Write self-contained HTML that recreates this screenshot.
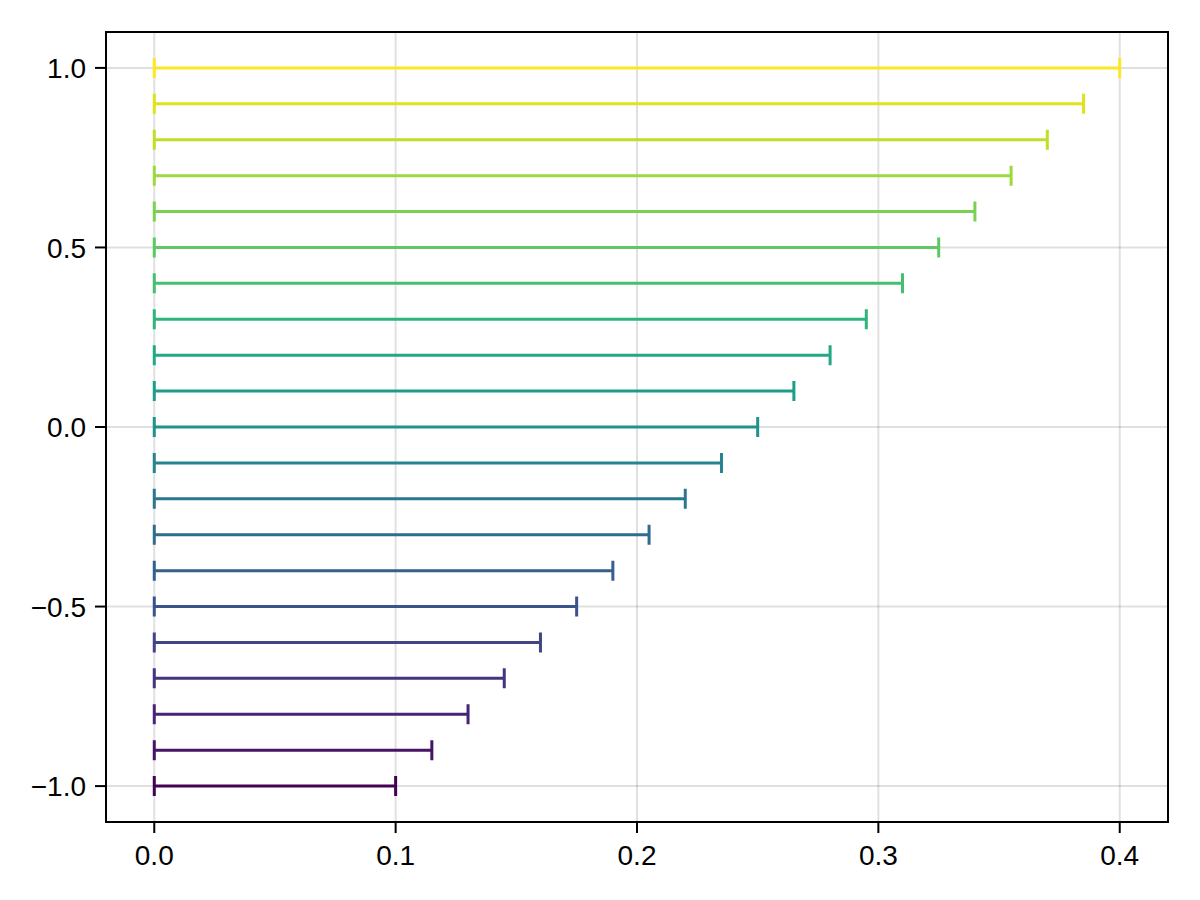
<!DOCTYPE html>
<html><head><meta charset="utf-8"><title>rangebars</title>
<style>html,body{margin:0;padding:0;background:#fff;}body{width:1200px;height:900px;overflow:hidden;}svg{display:block;}text{font-family:"Liberation Sans",sans-serif;font-size:28px;fill:#000;}</style></head><body>
<svg width="1200" height="900" viewBox="0 0 1200 900">
<rect x="0" y="0" width="1200" height="900" fill="#ffffff"/>
<g stroke="rgba(0,0,0,0.12)" stroke-width="2" fill="none">
<line x1="154.27" y1="32.00" x2="154.27" y2="822.00"/>
<line x1="395.64" y1="32.00" x2="395.64" y2="822.00"/>
<line x1="637.00" y1="32.00" x2="637.00" y2="822.00"/>
<line x1="878.36" y1="32.00" x2="878.36" y2="822.00"/>
<line x1="1119.73" y1="32.00" x2="1119.73" y2="822.00"/>
<line x1="106.00" y1="786.09" x2="1168.00" y2="786.09"/>
<line x1="106.00" y1="606.55" x2="1168.00" y2="606.55"/>
<line x1="106.00" y1="427.00" x2="1168.00" y2="427.00"/>
<line x1="106.00" y1="247.45" x2="1168.00" y2="247.45"/>
<line x1="106.00" y1="67.91" x2="1168.00" y2="67.91"/>
</g>
<g fill="none" stroke-width="3" stroke-linecap="butt">
<path stroke="#440154" d="M154.27 786.09H395.64M154.27 776.09V796.09M395.64 776.09V796.09"/>
<path stroke="#471365" d="M154.27 750.18H431.84M154.27 740.18V760.18M431.84 740.18V760.18"/>
<path stroke="#482475" d="M154.27 714.27H468.05M154.27 704.27V724.27M468.05 704.27V724.27"/>
<path stroke="#463480" d="M154.27 678.36H504.25M154.27 668.36V688.36M504.25 668.36V688.36"/>
<path stroke="#414487" d="M154.27 642.45H540.45M154.27 632.45V652.45M540.45 632.45V652.45"/>
<path stroke="#3b528b" d="M154.27 606.55H576.66M154.27 596.55V616.55M576.66 596.55V616.55"/>
<path stroke="#355f8d" d="M154.27 570.64H612.86M154.27 560.64V580.64M612.86 560.64V580.64"/>
<path stroke="#2f6c8e" d="M154.27 534.73H649.07M154.27 524.73V544.73M649.07 524.73V544.73"/>
<path stroke="#2a788e" d="M154.27 498.82H685.27M154.27 488.82V508.82M685.27 488.82V508.82"/>
<path stroke="#25848e" d="M154.27 462.91H721.48M154.27 452.91V472.91M721.48 452.91V472.91"/>
<path stroke="#21918c" d="M154.27 427.00H757.68M154.27 417.00V437.00M757.68 417.00V437.00"/>
<path stroke="#1e9c89" d="M154.27 391.09H793.89M154.27 381.09V401.09M793.89 381.09V401.09"/>
<path stroke="#22a884" d="M154.27 355.18H830.09M154.27 345.18V365.18M830.09 345.18V365.18"/>
<path stroke="#2fb47c" d="M154.27 319.27H866.30M154.27 309.27V329.27M866.30 309.27V329.27"/>
<path stroke="#44bf70" d="M154.27 283.36H902.50M154.27 273.36V293.36M902.50 273.36V293.36"/>
<path stroke="#5ec962" d="M154.27 247.45H938.70M154.27 237.45V257.45M938.70 237.45V257.45"/>
<path stroke="#7ad151" d="M154.27 211.55H974.91M154.27 201.55V221.55M974.91 201.55V221.55"/>
<path stroke="#9bd93c" d="M154.27 175.64H1011.11M154.27 165.64V185.64M1011.11 165.64V185.64"/>
<path stroke="#bddf26" d="M154.27 139.73H1047.32M154.27 129.73V149.73M1047.32 129.73V149.73"/>
<path stroke="#dfe318" d="M154.27 103.82H1083.52M154.27 93.82V113.82M1083.52 93.82V113.82"/>
<path stroke="#fde725" d="M154.27 67.91H1119.73M154.27 57.91V77.91M1119.73 57.91V77.91"/>
</g>
<g stroke="#000" stroke-width="2" fill="none">
<line x1="154.27" y1="823.00" x2="154.27" y2="833.00"/>
<line x1="395.64" y1="823.00" x2="395.64" y2="833.00"/>
<line x1="637.00" y1="823.00" x2="637.00" y2="833.00"/>
<line x1="878.36" y1="823.00" x2="878.36" y2="833.00"/>
<line x1="1119.73" y1="823.00" x2="1119.73" y2="833.00"/>
<line x1="95.00" y1="786.09" x2="105.00" y2="786.09"/>
<line x1="95.00" y1="606.55" x2="105.00" y2="606.55"/>
<line x1="95.00" y1="427.00" x2="105.00" y2="427.00"/>
<line x1="95.00" y1="247.45" x2="105.00" y2="247.45"/>
<line x1="95.00" y1="67.91" x2="105.00" y2="67.91"/>
</g>
<rect x="106.00" y="32.00" width="1062.00" height="790.00" fill="none" stroke="#000" stroke-width="2"/>
<text x="154.27" y="864.70" text-anchor="middle">0.0</text>
<text x="395.64" y="864.70" text-anchor="middle">0.1</text>
<text x="637.00" y="864.70" text-anchor="middle">0.2</text>
<text x="878.36" y="864.70" text-anchor="middle">0.3</text>
<text x="1119.73" y="864.70" text-anchor="middle">0.4</text>
<text x="86.00" y="796.34" text-anchor="end">−1.0</text>
<text x="86.00" y="616.80" text-anchor="end">−0.5</text>
<text x="86.00" y="437.25" text-anchor="end">0.0</text>
<text x="86.00" y="257.70" text-anchor="end">0.5</text>
<text x="86.00" y="78.16" text-anchor="end">1.0</text>
</svg></body></html>
